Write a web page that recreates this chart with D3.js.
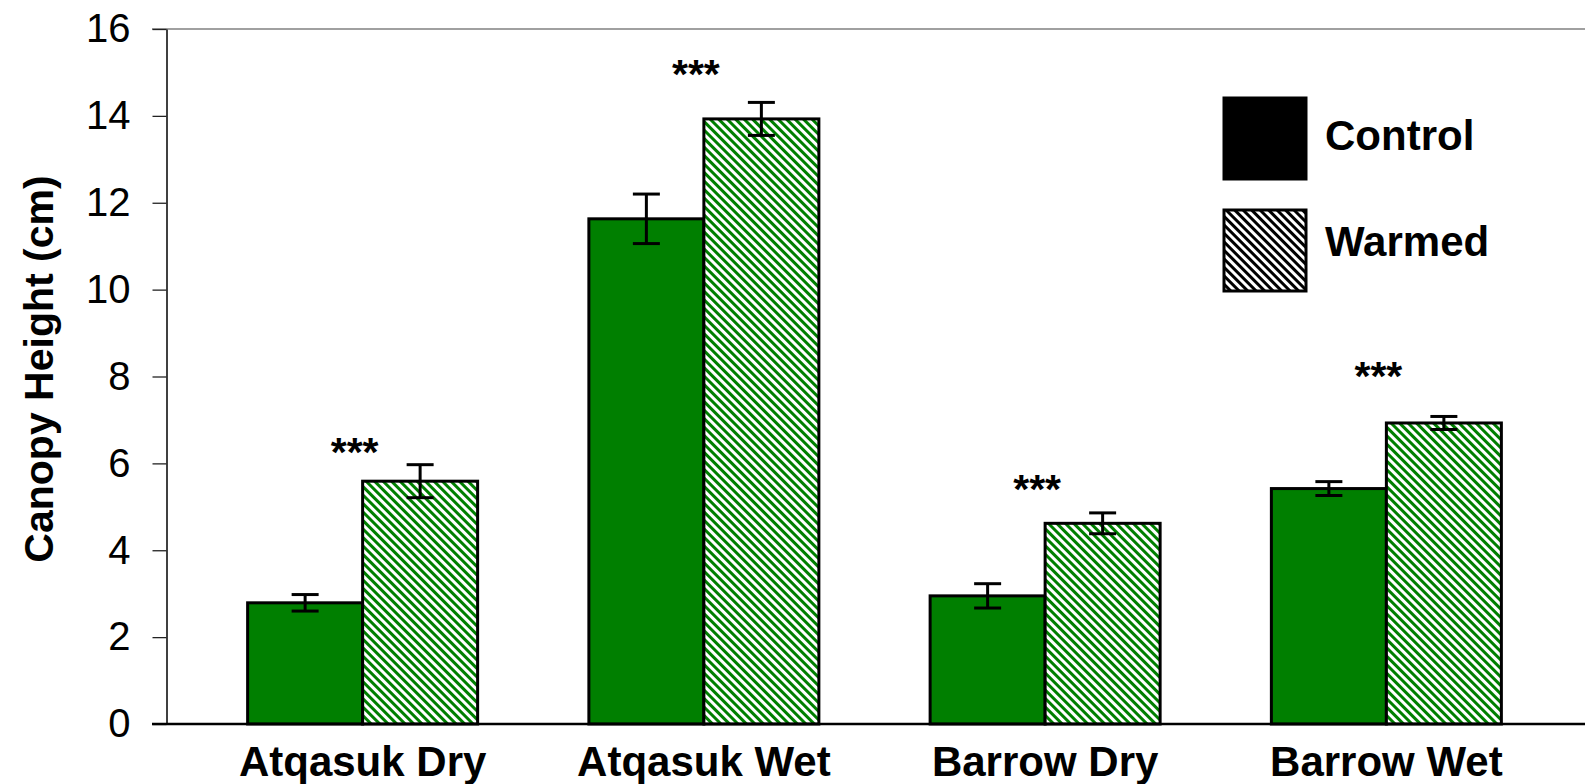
<!DOCTYPE html>
<html>
<head>
<meta charset="utf-8">
<script src="https://cdn.jsdelivr.net/npm/d3@7"></script>
<style>
  html, body { margin: 0; padding: 0; background: #fff; }
  svg { display: block; }
  text { font-family: "Liberation Sans", Arial, Helvetica, sans-serif; }
</style>
</head>
<body>
<svg id="chart" width="1585" height="784"></svg>
<script>
// Canopy height by site and treatment (mean ± SE, cm)
const sites = ["Atqasuk Dry", "Atqasuk Wet", "Barrow Dry", "Barrow Wet"];
const treatments = ["Control", "Warmed"];
const controlMean = [2.79, 11.63, 2.95, 5.42];
const controlErr = [0.19, 0.57, 0.28, 0.16];
const warmedMean = [5.59, 13.93, 4.62, 6.93];
const warmedErr = [0.38, 0.38, 0.24, 0.15];
// height (cm) at which each significance marker sits
const sigMarks = ["***", "***", "***", "***"];
const sigHeight = [6.47, 15.18, 5.62, 8.22];
const yTicks = [0, 2, 4, 6, 8, 10, 12, 14, 16];

const svg = d3.select("#chart");
const green = "#007f00";

// striped fill for warmed bars and its black legend counterpart
const defs = svg.append("defs");
function stripes(id, color) {
  const p = defs.append("pattern")
    .attr("id", id)
    .attr("patternUnits", "userSpaceOnUse")
    .attr("width", 6).attr("height", 6)
    .attr("patternTransform", "rotate(-45)");
  p.append("rect").attr("width", 6).attr("height", 6).attr("fill", "#fff");
  p.append("rect").attr("x", 0).attr("width", 3).attr("height", 6).attr("fill", color);
}
stripes("hatchGreen", green);
stripes("hatchBlack", "#000");

const x = d3.scaleBand().domain(sites).range([192, 1557])
  .paddingInner(0.326).paddingOuter(0.163);
const xs = d3.scaleBand().domain(treatments).range([0, x.bandwidth()]);
const y = d3.scaleLinear().domain([0, 16]).range([724, 29]);

// top frame line
svg.append("line")
  .attr("x1", 152).attr("x2", 1585)
  .attr("y1", y(16)).attr("y2", y(16))
  .attr("stroke", "#808080").attr("stroke-width", 1.5);

// y axis
const yAxis = svg.append("g")
  .attr("transform", "translate(166.5,0)")
  .call(d3.axisLeft(y).tickValues(yTicks).tickSize(14).tickSizeOuter(0).tickPadding(22));
yAxis.select(".domain").attr("stroke", "#000").attr("stroke-width", 1.5);
yAxis.selectAll(".tick line").attr("stroke", "#222").attr("stroke-width", 1.3);
yAxis.selectAll(".tick text")
  .attr("font-size", 40).attr("fill", "#000")
  .attr("font-family", "Liberation Sans, Arial, sans-serif");

// bars
const rows = sites.map((s, i) => ({
  site: s,
  vals: [
    { t: "Control", v: controlMean[i], e: controlErr[i] },
    { t: "Warmed", v: warmedMean[i], e: warmedErr[i] }
  ]
}));

const groups = svg.append("g").selectAll("g")
  .data(rows).join("g")
  .attr("transform", d => `translate(${x(d.site)},0)`);

groups.selectAll("rect")
  .data(d => d.vals).join("rect")
  .attr("x", d => xs(d.t))
  .attr("y", d => y(d.v))
  .attr("width", xs.bandwidth())
  .attr("height", d => y(0) - y(d.v))
  .attr("fill", d => d.t === "Control" ? green : "url(#hatchGreen)")
  .attr("stroke", "#000").attr("stroke-width", 3);

// error bars
const eb = groups.selectAll("g.err")
  .data(d => d.vals).join("g").attr("class", "err")
  .attr("stroke", "#000").attr("stroke-width", 3).attr("fill", "none");
const cx = d => xs(d.t) + xs.bandwidth() / 2;
eb.append("line")
  .attr("x1", cx).attr("x2", cx)
  .attr("y1", d => y(d.v + d.e)).attr("y2", d => y(d.v - d.e));
eb.append("line")
  .attr("x1", d => cx(d) - 13.5).attr("x2", d => cx(d) + 13.5)
  .attr("y1", d => y(d.v + d.e)).attr("y2", d => y(d.v + d.e));
eb.append("line")
  .attr("x1", d => cx(d) - 13.5).attr("x2", d => cx(d) + 13.5)
  .attr("y1", d => y(d.v - d.e)).attr("y2", d => y(d.v - d.e));

// x axis baseline
svg.append("line")
  .attr("x1", 152).attr("x2", 1585)
  .attr("y1", y(0)).attr("y2", y(0))
  .attr("stroke", "#000").attr("stroke-width", 2.5);

// site labels
svg.append("g").selectAll("text")
  .data(sites).join("text")
  .attr("x", d => x(d) + x.bandwidth() / 2)
  .attr("y", 776)
  .attr("text-anchor", "middle")
  .attr("font-size", 42).attr("font-weight", "bold")
  .text(d => d);

// significance markers
svg.append("g").selectAll("text")
  .data(sites).join("text")
  .attr("x", d => x(d) + x.bandwidth() / 2 - 8)
  .attr("y", (d, i) => y(sigHeight[i]) + 23)
  .attr("text-anchor", "middle")
  .attr("font-size", 41).attr("font-weight", "bold")
  .text((d, i) => sigMarks[i]);

// y-axis title
svg.append("text")
  .attr("transform", "translate(53,369) rotate(-90)")
  .attr("text-anchor", "middle")
  .attr("font-size", 41).attr("font-weight", "bold")
  .text("Canopy Height (cm)");

// legend
const legend = svg.append("g").selectAll("g")
  .data(treatments).join("g")
  .attr("transform", (d, i) => `translate(1224,${98 + i * 112})`);
legend.append("rect")
  .attr("width", 82).attr("height", 81)
  .attr("fill", d => d === "Control" ? "#000" : "url(#hatchBlack)")
  .attr("stroke", "#000").attr("stroke-width", 3);
legend.append("text")
  .attr("x", 101).attr("y", (d, i) => 52 - i * 6)
  .attr("font-size", 42).attr("font-weight", "bold")
  .text(d => d);
</script>
</body>
</html>
